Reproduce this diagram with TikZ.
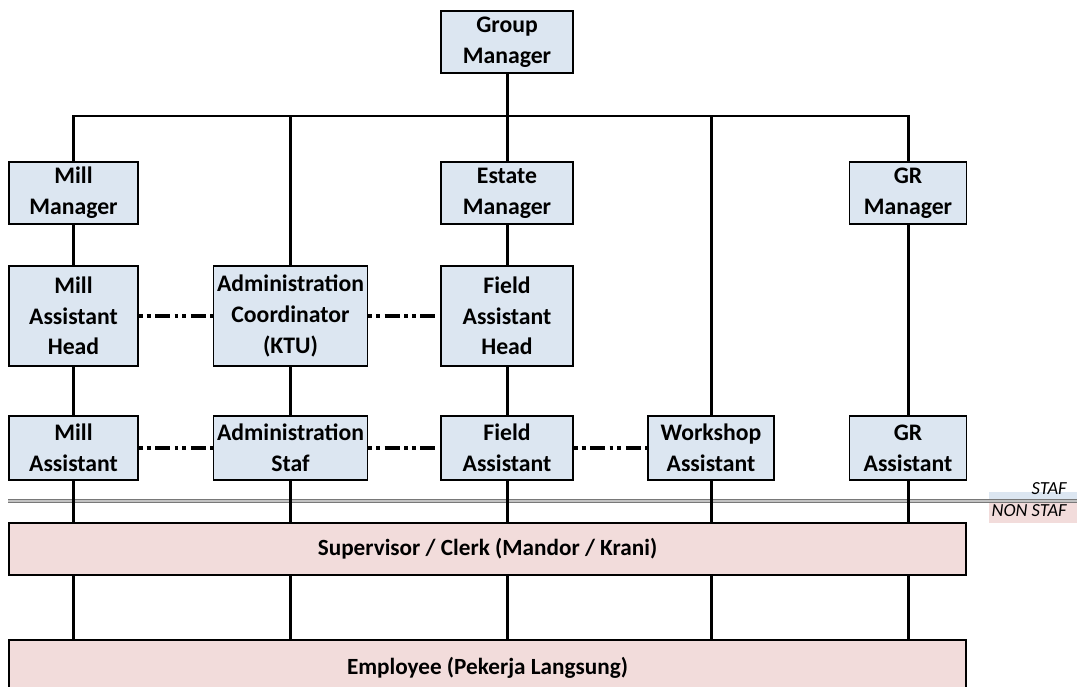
\documentclass[tikz,border=0pt]{standalone}
\usepackage{fontspec}
\setmainfont{Carlito}
\usetikzlibrary{positioning}
\definecolor{staf}{RGB}{220,230,241}
\definecolor{nonstaf}{RGB}{242,220,219}
\definecolor{batas}{RGB}{120,120,120}

\tikzset{
  jabatan/.style={rectangle, draw, line width=1.1pt, fill=staf, align=center, inner sep=1pt, minimum height=1.24cm, font=\fontsize{13.5}{17.5}\selectfont\bfseries},
  pelaksana/.style={rectangle, draw, line width=1.1pt, fill=nonstaf, minimum width=19.14cm, minimum height=1.04cm, font=\fontsize{13.2}{17.5}\selectfont\bfseries},
  garis/.style={line width=1.7pt},
  koordinasi/.style={line width=2pt, dash pattern=on 2.2pt off 2.2pt on 2.2pt off 2.6pt on 8.5pt off 2.6pt}
}

\begin{document}
\begin{tikzpicture}[x=0.02cm, y=-0.02cm]
  \useasboundingbox (0,0) rectangle (1077,686);

  % Batas staf / non staf
  \fill[staf] (989,492) rectangle (1077,501);
  \fill[nonstaf] (989,501) rectangle (1077,523);
  \draw[batas, line width=0.6pt, double=batas!45, double distance=0.6pt] (8,501) -- (1077,501);
  \node[anchor=east, inner sep=0pt, font=\fontsize{10.5}{12}\selectfont\itshape] (lblstaf) at (1067,489) {STAF};
  \node[anchor=east, inner sep=0pt, font=\fontsize{10.5}{12}\selectfont\itshape] (lblnonstaf) at (1067,511) {NON STAF};

  % Manajer
  \node[jabatan, minimum width=2.64cm] (gm) at (507,42) {Group\\Manager};
  \node[jabatan, minimum width=2.58cm] (mm) at (73.5,193) {Mill\\Manager};
  \node[jabatan, minimum width=2.64cm] (em) at (507,193) {Estate\\Manager};
  \node[jabatan, minimum width=2.34cm] (grm) at (908,193) {GR\\Manager};

  % Kepala dan koordinator
  \node[jabatan, minimum width=2.58cm, minimum height=2cm] (mah) at (73.5,316) {Mill\\Assistant\\Head};
  \node[jabatan, minimum width=3.08cm, minimum height=2cm] (adc) at (290.5,316) {Administration\\Coordinator\\(KTU)};
  \node[jabatan, minimum width=2.64cm, minimum height=2cm] (fah) at (507,316) {Field\\Assistant\\Head};

  % Asisten
  \node[jabatan, minimum width=2.58cm, minimum height=1.28cm] (ma) at (73.5,448) {Mill\\Assistant};
  \node[jabatan, minimum width=3.08cm, minimum height=1.28cm] (ads) at (290.5,448) {Administration\\Staf};
  \node[jabatan, minimum width=2.64cm, minimum height=1.28cm] (fa) at (507,448) {Field\\Assistant};
  \node[jabatan, minimum width=2.52cm, minimum height=1.28cm] (wa) at (711,448) {Workshop\\Assistant};
  \node[jabatan, minimum width=2.34cm, minimum height=1.28cm] (gra) at (908,448) {GR\\Assistant};

  % Non staf
  \node[pelaksana] (sup) at (487.5,549) {Supervisor / Clerk (Mandor / Krani)};
  \node[pelaksana, minimum height=1.12cm] (emp) at (487.5,668) {Employee (Pekerja Langsung)};

  % Garis komando
  \coordinate (bus) at (507,116);
  \draw[garis] (gm.south) -- (em.north);
  \draw[garis] (mm.north) -- (mm |- bus) -- (grm |- bus) -- (grm.north);
  \draw[garis] (adc.north) -- (adc |- bus);
  \draw[garis] (wa.north) -- (wa |- bus);
  \draw[garis] (mm) -- (mah);
  \draw[garis] (mah) -- (ma);
  \draw[garis] (em) -- (fah);
  \draw[garis] (fah) -- (fa);
  \draw[garis] (adc) -- (ads);
  \draw[garis] (grm) -- (gra);
  \draw[garis] (ma.south) -- (ma |- sup.north);
  \draw[garis] (ads.south) -- (ads |- sup.north);
  \draw[garis] (fa.south) -- (fa |- sup.north);
  \draw[garis] (wa.south) -- (wa |- sup.north);
  \draw[garis] (gra.south) -- (gra |- sup.north);
  \draw[garis] (ma |- sup.south) -- (ma |- emp.north);
  \draw[garis] (ads |- sup.south) -- (ads |- emp.north);
  \draw[garis] (fa |- sup.south) -- (fa |- emp.north);
  \draw[garis] (wa |- sup.south) -- (wa |- emp.north);
  \draw[garis] (gra |- sup.south) -- (gra |- emp.north);

  % Garis koordinasi
  \draw[koordinasi] (mah) -- (adc);
  \draw[koordinasi] (adc) -- (fah);
  \draw[koordinasi] (ma) -- (ads);
  \draw[koordinasi] (ads) -- (fa);
  \draw[koordinasi] (fa) -- (wa);
\end{tikzpicture}
\end{document}
